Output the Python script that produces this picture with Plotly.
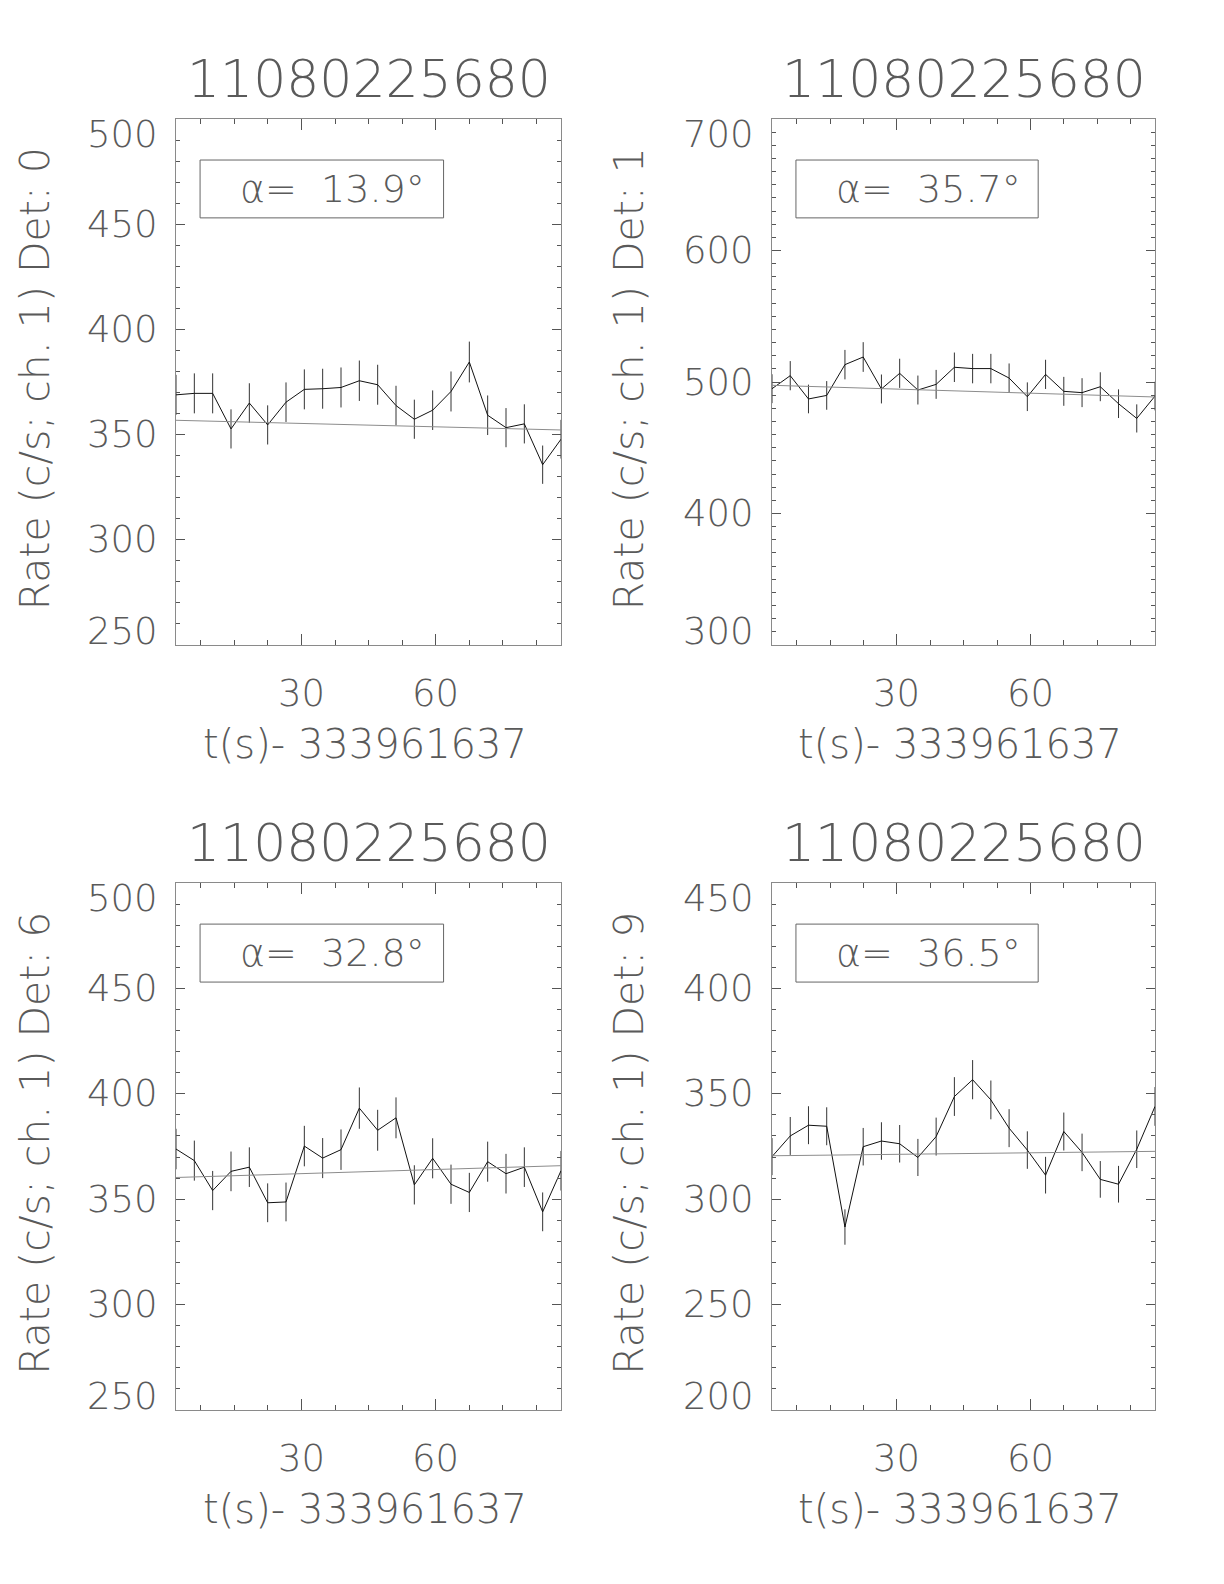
import plotly.graph_objects as go

# ---------------- data ----------------
t0 = 1.95
dt = 4.096
n_bins = 22
times = [t0 + dt * k for k in range(n_bins)]

title_text = "11080225680"
xlabel_text = "t(s)- 333961637"
dets = ["0", "1", "6", "9"]
alphas = ["13.9", "35.7", "32.8", "36.5"]

rate_d0 = [368.9, 369.6, 369.6, 352.7, 365.0, 354.6, 365.4, 371.5, 371.8, 372.4, 375.6,
           373.7, 363.8, 357.3, 361.6, 370.5, 384.5, 359.2, 353.3, 355.1, 335.7, 347.8]
rate_d1 = [494.9, 504.8, 487.1, 489.8, 513.2, 519.0, 494.7, 506.6, 493.9, 498.2, 511.2,
           510.2, 510.2, 503.0, 488.8, 505.8, 492.9, 491.9, 496.4, 483.5, 472.3, 489.3]
rate_d6 = [373.8, 368.3, 354.1, 363.2, 365.2, 348.3, 348.7, 375.2, 369.5, 373.5, 393.2,
           382.7, 388.6, 356.8, 369.4, 357.1, 353.2, 367.8, 362.1, 365.2, 344.0, 363.5]
rate_d9 = [320.2, 330.0, 335.1, 334.6, 286.8, 324.9, 327.6, 326.3, 319.8, 329.7, 348.7,
           356.7, 347.1, 333.7, 323.3, 311.4, 332.1, 322.2, 309.4, 307.1, 323.7, 344.0]

err_d0 = [9.5, 9.5, 9.5, 9.3, 9.4, 9.3, 9.4, 9.5, 9.5, 9.5, 9.6,
          9.5, 9.4, 9.3, 9.4, 9.5, 9.7, 9.4, 9.3, 9.3, 9.1, 9.2]
err_d1 = [11.0, 11.1, 10.9, 10.9, 11.2, 11.3, 11.0, 11.1, 11.0, 11.0, 11.2,
          11.2, 11.2, 11.1, 10.9, 11.1, 11.0, 11.0, 11.0, 10.9, 10.7, 10.9]
err_d6 = [9.6, 9.5, 9.3, 9.4, 9.4, 9.2, 9.2, 9.6, 9.5, 9.6, 9.8,
          9.7, 9.7, 9.3, 9.5, 9.3, 9.3, 9.5, 9.4, 9.4, 9.2, 9.4]
err_d9 = [8.8, 9.0, 9.0, 9.0, 8.4, 8.9, 8.9, 8.9, 8.8, 9.0, 9.2,
          9.3, 9.2, 9.0, 8.9, 8.7, 9.0, 8.9, 8.7, 8.7, 8.9, 9.2]

fit_d0 = [356.8, 352.2]
fit_d1 = [497.5, 488.6]
fit_d6 = [360.3, 365.9]
fit_d9 = [320.6, 322.7]

y_ranges = [[250, 500], [300, 700], [250, 500], [200, 450]]
y_ticks = [[250, 300, 350, 400, 450, 500],
           [300, 400, 500, 600, 700],
           [250, 300, 350, 400, 450, 500],
           [200, 250, 300, 350, 400, 450]]
y_dticks = [50, 100, 50, 50]
x_ticks = [30, 60]

rates = [rate_d0, rate_d1, rate_d6, rate_d9]
errs = [err_d0, err_d1, err_d6, err_d9]
fits = [fit_d0, fit_d1, fit_d6, fit_d9]

# ---------------- layout geometry ----------------
OFF = 8  # default page body margin
W, H = 1224 - 2 * OFF, 1584 - 2 * OFF


def px_x(v):
    return (v - OFF) / W


def px_y(v):
    return 1 - (v - OFF) / H


x_domains = [[px_x(176), px_x(561)], [px_x(772), px_x(1155)],
             [px_x(176), px_x(561)], [px_x(772), px_x(1155)]]
top_row = [px_y(645), px_y(119)]
bot_row = [px_y(1410), px_y(883)]
y_domains = [top_row, top_row, bot_row, bot_row]
ylabel_x = [px_x(35), px_x(629), px_x(35), px_x(629)]

FONT = "DejaVu Sans ExtraLight, DejaVu Sans, Roboto"
TXT = "#5a5a5a"
AX = "#8a8a8a"
TICK = "#555555"


def tfont(size):
    return dict(family=FONT, size=size, color=TXT, weight=200)


fig = go.Figure()
annotations = []
shapes = []

for i in range(4):
    sfx = "" if i == 0 else str(i + 1)
    xa, ya = "x" + sfx, "y" + sfx
    fig.add_trace(go.Scatter(
        x=times, y=rates[i], xaxis=xa, yaxis=ya, mode="lines",
        line=dict(color="#111111", width=1),
        error_y=dict(type="data", array=errs[i], visible=True,
                     color="#333333", thickness=1, width=0),
        showlegend=False, hoverinfo="skip"))
    fig.add_trace(go.Scatter(
        x=[times[0], times[-1]], y=fits[i], xaxis=xa, yaxis=ya, mode="lines",
        line=dict(color="#8c8c8c", width=1), showlegend=False, hoverinfo="skip"))

    axis_common = dict(showline=True, linecolor=AX, linewidth=1, mirror="allticks",
                       ticks="inside", tickcolor=TICK, tickwidth=1,
                       showgrid=False, zeroline=False, showticklabels=False)
    fig.layout["xaxis" + sfx] = dict(
        domain=x_domains[i], range=[times[0], times[-1]], anchor=ya,
        tick0=0, dtick=30, ticklen=11,
        minor=dict(dtick=7.5, tick0=0, ticklen=5, tickcolor=TICK, ticks="inside"),
        **axis_common)
    fig.layout["yaxis" + sfx] = dict(
        domain=y_domains[i], range=y_ranges[i], anchor=xa,
        tick0=0, dtick=y_dticks[i], ticklen=9,
        minor=dict(dtick=10, tick0=0, ticklen=4, tickcolor=TICK, ticks="inside"),
        **axis_common)

    xdom = xa + " domain"
    ydom = ya + " domain"
    # panel title
    annotations.append(dict(text=title_text, xref=xdom, yref=ydom, x=0.5, y=1,
                            yshift=40, xanchor="center", yanchor="middle", showarrow=False,
                            font=tfont(52)))
    # y tick labels
    lo, hi = y_ranges[i]
    for v in y_ticks[i]:
        ys = -15 if v == hi else (14 if v == lo else 0)
        annotations.append(dict(text=str(v), xref=xdom, yref=ya, x=0, y=v,
                                xshift=-16, yshift=ys, xanchor="right", yanchor="middle",
                                showarrow=False, font=tfont(37)))
    # x tick labels
    for v in x_ticks:
        annotations.append(dict(text=str(v), xref=xa, yref=ydom, x=v, y=0,
                                yshift=-48, xanchor="center", yanchor="middle",
                                showarrow=False, font=tfont(37)))
    # x title
    annotations.append(dict(text=xlabel_text, xref=xdom, yref=ydom, x=0.49, y=0,
                            yshift=-99, xanchor="center", yanchor="middle", showarrow=False,
                            font=tfont(40)))
    # y title
    annotations.append(dict(text="Rate (c/s; ch. 1) Det: " + dets[i], xref="paper", yref=ydom,
                            x=ylabel_x[i], y=0.505, xanchor="center", yanchor="middle",
                            textangle=-90, showarrow=False, font=tfont(41)))
    # alpha box
    shapes.append(dict(type="rect", xref=xdom, yref=ydom, x0=0.0625, x1=0.695,
                       y0=0.812, y1=0.922, line=dict(color="#666666", width=1)))
    annotations.append(dict(text="α=\u00a0\u00a0" + alphas[i] + "°", xref=xdom, yref=ydom,
                            x=0.162, y=0.867, xanchor="left", yanchor="middle", showarrow=False,
                            font=tfont(38)))

fig.update_layout(width=W, height=H, margin=dict(l=0, r=0, t=0, b=0),
                  paper_bgcolor="white", plot_bgcolor="white",
                  annotations=annotations, shapes=shapes, showlegend=False)

fig.write_html("out.html")
